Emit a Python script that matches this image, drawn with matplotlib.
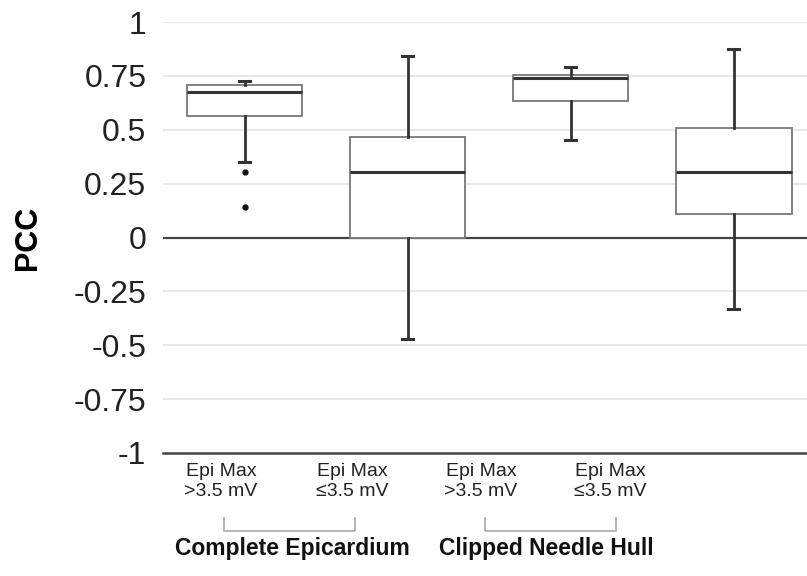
import matplotlib
matplotlib.use("Agg")
import matplotlib.pyplot as plt
from matplotlib.lines import Line2D

plt.rcParams['font.family'] = ['Liberation Sans', 'DejaVu Sans']

# values (PCC)
groups = ["Complete Epicardium", "Clipped Needle Hull"]
cat_labels = ["Epi Max\n>3.5 mV", "Epi Max\n\u22643.5 mV", "Epi Max\n>3.5 mV", "Epi Max\n\u22643.5 mV"]
whislo = [0.349, -0.473, 0.452, -0.333]
q1 = [0.565, 0.0, 0.632, 0.108]
med = [0.676, 0.306, 0.738, 0.303]
q3 = [0.707, 0.465, 0.752, 0.507]
whishi = [0.725, 0.843, 0.790, 0.877]
fliers = [[0.303, 0.141], [], [], []]
yticks = [-1, -0.75, -0.5, -0.25, 0, 0.25, 0.5, 0.75, 1]
ytick_labels = ["-1", "-0.75", "-0.5", "-0.25", "0", "0.25", "0.5", "0.75", "1"]

W, H = 807, 576
fig = plt.figure(figsize=(W / 100, H / 100), dpi=100)
ax = fig.add_axes([163 / W, 1 - 453 / H, (807 - 163) / W, (453 - 22) / H])

stats = []
for i in range(4):
    stats.append(dict(whislo=whislo[i], q1=q1[i], med=med[i], q3=q3[i],
                      whishi=whishi[i], fliers=fliers[i]))

for y in yticks:
    if y in (0, -1):
        continue
    ax.axhline(y, color='#e8e8e8', lw=1.5, zorder=0)
ax.axhline(0, color='#444444', lw=1.6, zorder=1)

ax.bxp(stats, positions=range(4), widths=0.71, capwidths=0.065,
       patch_artist=True, showfliers=True,
       boxprops=dict(facecolor='white', edgecolor='#777777', lw=1.3),
       medianprops=dict(color='#333333', lw=2.2),
       whiskerprops=dict(color='#333333', lw=2.0),
       capprops=dict(color='#333333', lw=2.2),
       flierprops=dict(marker='o', markersize=3.5, markerfacecolor='#111111',
                       markeredgecolor='#111111'),
       zorder=2)

ax.set_xlim(-0.5, 3.45)
ax.set_ylim(-1, 1)
ax.set_yticks(yticks)
ax.set_yticklabels(ytick_labels, fontsize=23, color='#222222')
ax.tick_params(axis='y', length=0, pad=12)
ax.set_xticks([])
for s in ['top', 'right', 'left']:
    ax.spines[s].set_visible(False)
ax.spines['bottom'].set_color('#444444')
ax.spines['bottom'].set_linewidth(1.8)
ax.set_ylabel("PCC", fontsize=22, fontweight='bold', labelpad=22)

# category labels below the axis (figure pixel positions)
label_x = [221, 352, 481, 610]
for x, lab in zip(label_x, cat_labels):
    fig.text(x / W, 1 - 463 / H, lab, ha='center', va='top', fontsize=14,
             color='#222222', linespacing=1.2)

# brackets joining each pair
for x0, x1 in [(224, 355), (485, 616)]:
    xs = [x0 / W, x0 / W, x1 / W, x1 / W]
    ys = [1 - 518 / H, 1 - 531 / H, 1 - 531 / H, 1 - 518 / H]
    fig.add_artist(Line2D(xs, ys, color='#aaaaaa', lw=1.2))

for x, g in zip([292, 546], groups):
    fig.text(x / W, 1 - 537 / H, g, ha='center', va='top', fontsize=16.5,
             fontweight='bold', color='#111111')

fig.savefig("out.png", dpi=100)
